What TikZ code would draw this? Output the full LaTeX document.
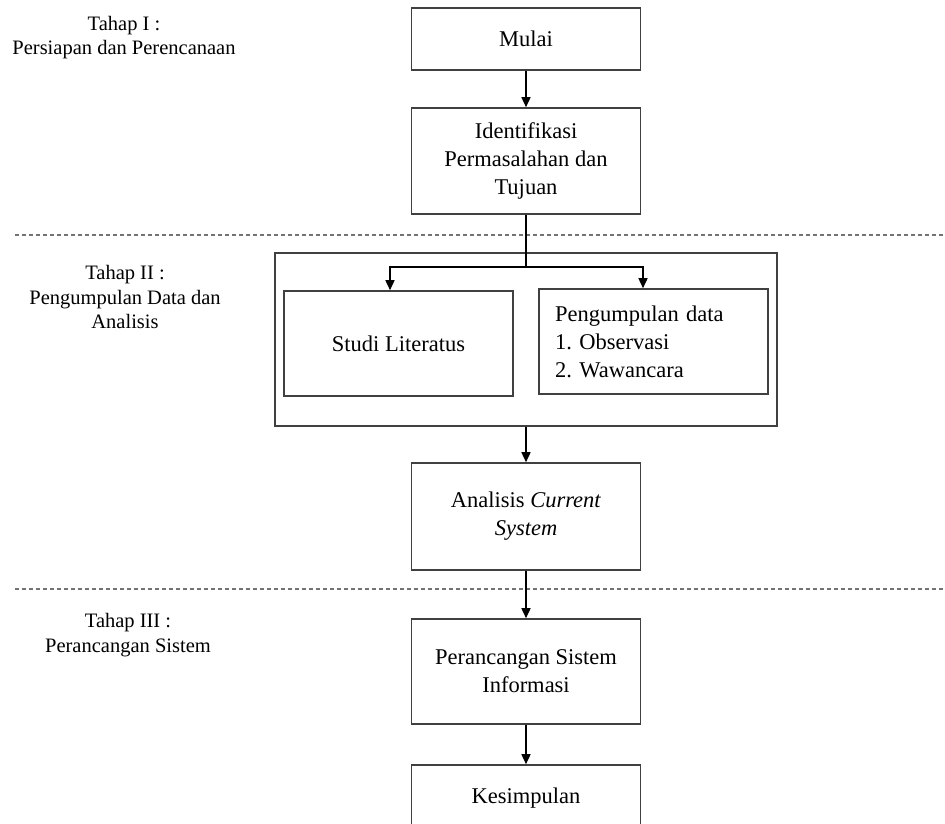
\documentclass[tikz,border=0pt]{standalone}
\usepackage{fontspec}
\setmainfont{Liberation Serif}
\usetikzlibrary{arrows.meta}
\frenchspacing
\begin{document}
\begin{tikzpicture}[x=1pt,y=-1pt,
  box/.style={draw=black!75, line width=1.6pt, inner sep=0pt, font=\fontsize{22.5}{28}\selectfont, align=center},
  lbl/.style={inner sep=0pt, font=\fontsize{20.5}{24.5}\selectfont, align=center},
  arr/.style={draw=black, line width=1.5pt, -{Triangle[length=10pt,width=9pt]}},
  ln/.style={draw=black, line width=1.5pt},
  sep/.style={draw=black!55, line width=1.4pt, dash pattern=on 4pt off 3pt}]
\clip (0,0) rectangle (945,823);
\fill[white] (0,0) rectangle (945,823);
% separators
\coordinate (d1l) at (15,235);
\coordinate (d1r) at (945,235);
\coordinate (d2l) at (15,589);
\coordinate (d2r) at (945,589);
\draw[sep] (d1l) -- (d1r);
\draw[sep] (d2l) -- (d2r);
% stage labels
\node[lbl] (t1) at (124,37.5) {Tahap I :\\Persiapan dan Perencanaan};
\node[lbl] (t2) at (125,297) {Tahap II :\\Pengumpulan Data dan\\Analisis};
\node[lbl] (t3) at (128,635) {Tahap III :\\Perancangan Sistem};
% boxes
\node[box, minimum width=229pt, minimum height=62pt] (mulai) at (526,39) {Mulai};
\node[box, minimum width=229pt, minimum height=106pt] (ident) at (526,161) {Identifikasi\\Permasalahan dan\\Tujuan};
\node[box, minimum width=502pt, minimum height=173pt] (outer) at (526,339.5) {};
\node[box, minimum width=229pt, minimum height=105pt] (studi) at (398.5,343.5) {Studi Literatus};
\node[box, minimum width=229pt, minimum height=105pt, text width=197pt, inner xsep=16pt, align=left] (kumpul) at (653.5,341.5) {Pengumpulan data\\1. Observasi\\2. Wawancara};
\node[box, minimum width=229pt, minimum height=107pt] (analisis) at (526,516.5) {Analisis \textit{Current}\\\textit{System}};
\node[box, minimum width=229pt, minimum height=105pt] (rancang) at (526,671.5) {Perancangan Sistem\\Informasi};
\node[box, minimum width=229pt, minimum height=66pt] (simpul) at (526,798) {Kesimpulan};
% connectors
\coordinate (br) at (526,267);
\draw[arr] (mulai.south) -- (ident.north);
\draw[ln] (ident.south) -- (br);
\draw[arr] (br) -| ([xshift=-8.5pt]studi.north);
\draw[arr] (br) -| ([xshift=-10.5pt]kumpul.north);
\draw[arr] (outer.south) -- (analisis.north);
\draw[arr] (analisis.south) -- (rancang.north);
\draw[arr] (rancang.south) -- (simpul.north);
\end{tikzpicture}
\end{document}
